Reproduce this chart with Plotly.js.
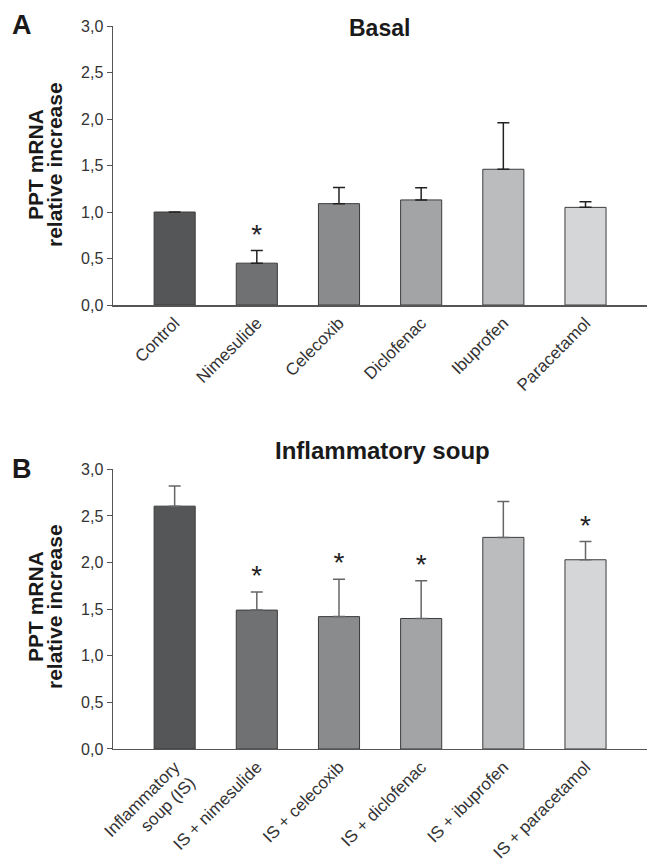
<!DOCTYPE html>
<html>
<head>
<meta charset="utf-8">
<script src="https://cdn.plot.ly/plotly-3.0.1.min.js"></script>
<style>html,body{margin:0;padding:0;background:#fff;}#chart{width:659px;height:868px;}</style>
</head>
<body>
<div id="chart"></div>
<script>
// Panel A – Basal
const catsA = ["Control", "Nimesulide", "Celecoxib", "Diclofenac", "Ibuprofen", "Paracetamol"];
const meanA = [1.00, 0.45, 1.09, 1.13, 1.46, 1.05];
const errA  = [null, 0.135, 0.175, 0.13, 0.50, 0.06];
const sigA  = [false, true, false, false, false, false];

// Panel B – Inflammatory soup
const catsB = ["Inflammatory<br>soup (IS)", "IS + nimesulide", "IS + celecoxib", "IS + diclofenac", "IS + ibuprofen", "IS + paracetamol"];
const meanB = [2.605, 1.49, 1.42, 1.40, 2.27, 2.03];
const errB  = [0.215, 0.195, 0.40, 0.405, 0.385, 0.195];
const sigB  = [false, true, true, true, false, true];

const barColors = ["#555658", "#707173", "#8a8b8d", "#a3a4a6", "#bbbcbe", "#d5d6d8"];
const yTicks = [0, 0.5, 1, 1.5, 2, 2.5, 3];
const yTitleLines = ["PPT mRNA", "relative increase"];

const FONT = "Liberation Sans, Arial, Helvetica, sans-serif";

function barTrace(cats, vals, errs, xa, ya, errColor) {
  return {
    type: "bar", x: cats, y: vals, xaxis: xa, yaxis: ya,
    width: 0.5,
    marker: { color: barColors, line: { color: "#3c3c3c", width: 1 } },
    error_y: { type: "data", array: errs, arrayminus: errs.map(() => 0), symmetric: false,
               color: errColor, thickness: 1.5, width: 6 },
    hoverinfo: "skip", showlegend: false
  };
}
function starTrace(cats, vals, errs, sig, xa, ya) {
  const xs = [], ys = [];
  cats.forEach((c, i) => { if (sig[i]) { xs.push(c); ys.push(vals[i] + (errs[i] || 0)); } });
  return {
    type: "scatter", mode: "text", x: xs, y: ys, xaxis: xa, yaxis: ya,
    text: xs.map(() => "*"), textposition: "top center",
    textfont: { family: FONT, size: 28, color: "#222" },
    hoverinfo: "skip", showlegend: false, cliponaxis: false
  };
}

const data = [
  barTrace(catsA, meanA, errA, "x", "y", "#222"),
  starTrace(catsA, meanA, errA, sigA, "x", "y"),
  barTrace(catsB, meanB, errB, "x2", "y2", "#666"),
  starTrace(catsB, meanB, errB, sigB, "x2", "y2")
];

const xCommon = {
  range: [-0.75, 5.75], showline: true, linecolor: "#555", linewidth: 1.5,
  ticks: "", tickangle: -45, showgrid: false, zeroline: false,
  tickfont: { family: FONT, size: 17, color: "#333" }, fixedrange: true
};
const yCommon = {
  range: [0, 3], tickvals: yTicks, tickformat: ".1f",
  showline: true, linecolor: "#555", linewidth: 1.5,
  ticks: "outside", ticklen: 5, tickcolor: "#555", tickwidth: 1,
  showgrid: false, zeroline: false,
  tickfont: { family: FONT, size: 16, color: "#333" }, fixedrange: true
};

function yTitleAnnots(centerY) {
  return [
    { text: "<b>" + yTitleLines[0] + "</b>", xref: "paper", yref: "paper", x: 35/659, y: 1 - centerY/868, showarrow: false,
      textangle: -90, font: { family: FONT, size: 21, color: "#1a1a1a" }, xanchor: "center", yanchor: "middle" },
    { text: "<b>" + yTitleLines[1] + "</b>", xref: "paper", yref: "paper", x: 54/659, y: 1 - centerY/868, showarrow: false,
      textangle: -90, font: { family: FONT, size: 21, color: "#1a1a1a" }, xanchor: "center", yanchor: "middle" }
  ];
}

const layout = {
  width: 659, height: 868,
  margin: { l: 0, r: 0, t: 0, b: 0 },
  separators: ",.",
  paper_bgcolor: "#fff", plot_bgcolor: "#fff",
  font: { family: FONT, color: "#222" },
  xaxis: Object.assign({}, xCommon, { domain: [0.1715, 0.982], anchor: "y" }),
  yaxis: Object.assign({}, yCommon, { domain: [0.6486, 0.970], anchor: "x" }),
  xaxis2: Object.assign({}, xCommon, { domain: [0.1715, 0.982], anchor: "y2" }),
  yaxis2: Object.assign({}, yCommon, { domain: [0.1371, 0.4593], anchor: "x2" }),
  annotations: [
    { text: "<b>A</b>", xref: "paper", yref: "paper", x: 22/659, y: 1 - 25/868, showarrow: false,
      font: { family: FONT, size: 27, color: "#1a1a1a" }, xanchor: "center", yanchor: "middle" },
    { text: "<b>B</b>", xref: "paper", yref: "paper", x: 22/659, y: 1 - 469/868, showarrow: false,
      font: { family: FONT, size: 27, color: "#1a1a1a" }, xanchor: "center", yanchor: "middle" },
    { text: "<b>Basal</b>", xref: "paper", yref: "paper", x: 379/659, y: 1 - 28/868, showarrow: false,
      font: { family: FONT, size: 23, color: "#1a1a1a" }, xanchor: "center", yanchor: "middle" },
    { text: "<b>Inflammatory soup</b>", xref: "paper", yref: "paper", x: 382/659, y: 1 - 450/868, showarrow: false,
      font: { family: FONT, size: 24, color: "#1a1a1a" }, xanchor: "center", yanchor: "middle" }
  ].concat(yTitleAnnots(165), yTitleAnnots(607))
};

Plotly.newPlot("chart", data, layout, { displayModeBar: false, staticPlot: true });
</script>
</body>
</html>
